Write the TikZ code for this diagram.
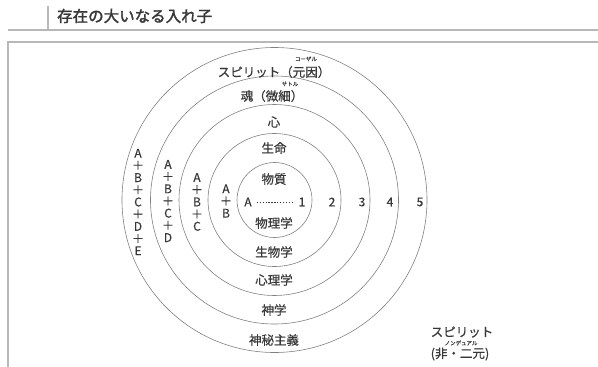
\documentclass[tikz,border=0pt]{standalone}
\usepackage{fontspec}
\setmainfont{Noto Sans CJK JP}[FakeBold=0.6]
\newfontfamily\jpb{Noto Sans CJK JP}[FakeBold=2]
\definecolor{txt}{gray}{0.22}
\definecolor{ring}{gray}{0.5}
\definecolor{frame}{gray}{0.72}
\begin{document}
\begin{tikzpicture}[x=1pt,y=-1pt,
  lbl/.style={inner sep=0pt,text=txt,font=\fontsize{12.5}{12.5}\selectfont},
  ruby/.style={inner sep=0pt,text=txt,font=\fontsize{5.5}{5.5}\selectfont},
  stack/.style={inner sep=0pt,text=txt,align=center,font=\fontsize{12}{12.2}\selectfont},
  num/.style={inner sep=0pt,text=txt,font=\fontsize{12}{12}\selectfont},
  ringline/.style={draw=ring,line width=0.6pt}]
\useasboundingbox (0,0) rectangle (598,367);
% header
\draw[frame,line width=1.6pt] (8,30) -- (598,30);
\draw[frame,line width=1.2pt] (48,6) -- (48,30);
\node[anchor=west,inner sep=0pt,text=txt,font=\jpb\fontsize{15.5}{15.5}\selectfont] (title) at (57,16) {存在の大いなる入れ子};
% frame
\draw[frame,line width=1.6pt] (8,368) -- (8,42) -- (599,42);
% rings
\coordinate (c) at (274.5,200);
\foreach \r in {37.5,66.5,95.5,124,152.5} \draw[ringline] (c) circle[radius=\r];
% labels top
\node[lbl] (l5) at (274,72) {スピリット（元因）};
\node[ruby] (r5) at (306,59) {コーザル};
\node[lbl] (l4) at (272,96) {魂（微細）};
\node[ruby] (r4) at (290,84) {サトル};
\node[lbl] (l3) at (274,122) {心};
\node[lbl] (l2) at (274,148) {生命};
\node[lbl] (l1) at (274,179) {物質};
% center line
\node[num] (A) at (248,202) {A};
\node[num] (one) at (302,202) {1};
\draw[txt,line width=0.5pt,dash pattern=on 1.3pt off 1.6pt] ([xshift=5pt]A.east) -- ([xshift=-5pt]one.west);
\node[num] (two) at (332,202) {2};
\node[num] (three) at (362,202) {3};
\node[num] (four) at (390,202) {4};
\node[num] (five) at (420,202) {5};
% bottom labels
\node[lbl] (b1) at (274,223) {物理学};
\node[lbl] (b2) at (274,252) {生物学};
\node[lbl] (b3) at (274,280) {心理学};
\node[lbl] (b4) at (274,310) {神学};
\node[lbl] (b5) at (274,340) {神秘主義};
% stacks
\node[stack] (s2) at (226,201) {A\\＋\\B};
\node[stack] (s3) at (197,202) {A\\＋\\B\\＋\\C};
\node[stack] (s4) at (168,201) {A\\＋\\B\\＋\\C\\＋\\D};
\node[stack] (s5) at (138,202) {A\\＋\\B\\＋\\C\\＋\\D\\＋\\E};
% non-dual
\node[lbl] (nd1) at (462,332) {スピリット};
\node[ruby] (nd2) at (461,343) {ノンデュアル};
\node[lbl] (nd3) at (460,354) {(非・二元)};
\end{tikzpicture}
\end{document}
